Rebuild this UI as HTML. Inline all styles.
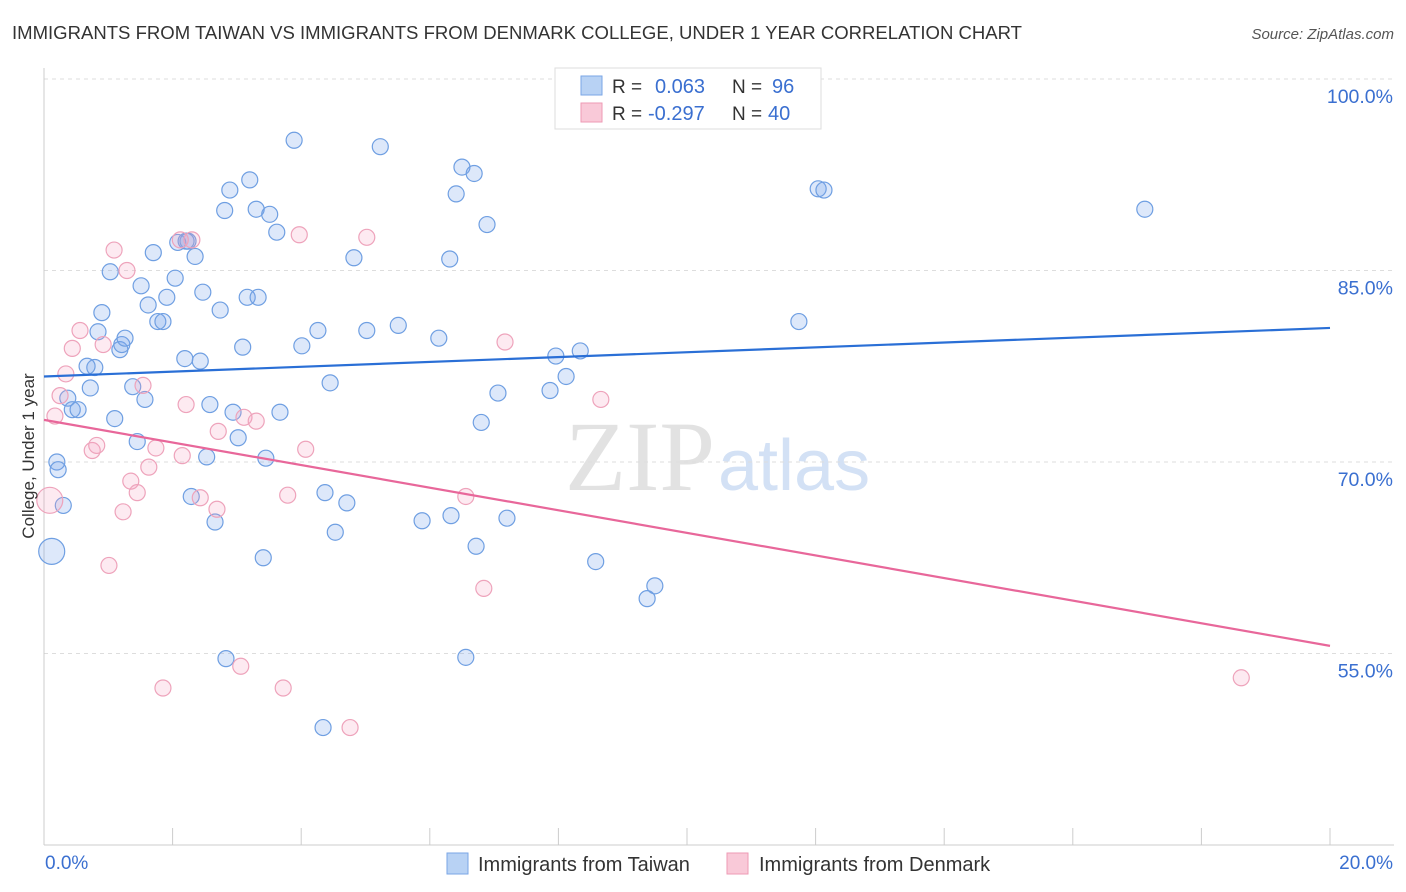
<!DOCTYPE html>
<html><head><meta charset="utf-8"><style>
body{margin:0;background:#fff;font-family:"Liberation Sans",sans-serif;}
svg{display:block}
</style></head><body>
<svg id="chart" width="1406" height="892">
<text x="12" y="39" font-size="18.5" fill="#333" textLength="1010" lengthAdjust="spacingAndGlyphs">IMMIGRANTS FROM TAIWAN VS IMMIGRANTS FROM DENMARK COLLEGE, UNDER 1 YEAR CORRELATION CHART</text>
<text x="1394" y="39" font-size="15" fill="#555" font-style="italic" text-anchor="end">Source: ZipAtlas.com</text>
<text x="715" y="490" font-size="100" font-family="Liberation Serif,serif" fill="#e2e2e2" text-anchor="end">ZIP</text>
<text x="718" y="490" font-size="72" fill="#d3e1f5">atlas</text>
<g id="grid"></g><g id="pts"></g><g id="trends"></g>
<text transform="translate(34,456) rotate(-90)" font-size="17" fill="#333" text-anchor="middle">College, Under 1 year</text>
<text x="45" y="869" font-size="19" fill="#3a6fd0">0.0%</text>
<text x="1393" y="869" font-size="19" fill="#3a6fd0" text-anchor="end">20.0%</text>
<g>
<rect x="555" y="68" width="266" height="61" fill="#fff" stroke="#ddd"/>
<rect x="581" y="76" width="21" height="19" fill="#b8d2f4" stroke="#7aa6e6"/>
<rect x="581" y="103" width="21" height="19" fill="#f9c9d8" stroke="#ee9ab4"/>
<text x="612" y="93" font-size="19" fill="#333">R = </text><text x="655" y="93" font-size="20" fill="#3a6fd0">0.063</text>
<text x="732" y="93" font-size="19" fill="#333">N = </text><text x="772" y="93" font-size="20" fill="#3a6fd0">96</text>
<text x="612" y="120" font-size="19" fill="#333">R = </text><text x="648" y="120" font-size="20" fill="#3a6fd0">-0.297</text>
<text x="732" y="120" font-size="19" fill="#333">N = </text><text x="768" y="120" font-size="20" fill="#3a6fd0">40</text>
</g>
<g>
<rect x="447" y="853" width="21" height="21" fill="#b8d2f4" stroke="#7aa6e6"/>
<text x="478" y="871" font-size="20" fill="#333">Immigrants from Taiwan</text>
<rect x="727" y="853" width="21" height="21" fill="#f9c9d8" stroke="#ee9ab4"/>
<text x="759" y="871" font-size="20" fill="#333">Immigrants from Denmark</text>
</g>
</svg>
<script>
const yTicks=[100,85,70,55];
const yTickLabels=["100.0%","85.0%","70.0%","55.0%"];
const xTicks=[0,2,4,6,8,10,12,14,16,18,20];
const blueX=[0.12,0.20,0.22,0.30,0.37,0.44,0.53,0.72,0.79,0.67,0.84,0.90,1.03,1.10,1.18,1.21,1.26,1.38,1.45,1.51,1.57,1.62,1.70,1.77,1.85,1.91,2.04,2.08,2.19,2.24,2.35,2.43,2.47,2.29,2.58,2.66,2.53,2.74,2.81,2.89,2.94,3.02,3.09,3.16,3.20,3.30,3.33,3.51,3.62,3.45,3.67,3.41,3.89,4.01,4.26,4.37,4.45,4.53,4.71,4.82,5.02,5.23,5.51,5.88,6.14,6.31,6.33,6.41,6.50,6.56,6.69,6.72,6.80,6.89,7.06,7.20,7.87,7.96,8.12,8.34,8.58,9.38,9.50,11.74,12.04,12.13,17.12,2.83,4.34,2.21];
const blueY=[63.0,70.0,69.4,66.6,75.0,74.1,74.1,75.8,77.4,77.5,80.2,81.7,84.9,73.4,78.8,79.2,79.7,75.9,71.6,83.8,74.9,82.3,86.4,81.0,81.0,82.9,84.4,87.2,78.1,87.3,86.1,77.9,83.3,67.3,74.5,65.3,70.4,81.9,89.7,91.3,73.9,71.9,79.0,82.9,92.1,89.8,82.9,89.4,88.0,70.3,73.9,62.5,95.2,79.1,80.3,67.6,76.2,64.5,66.8,86.0,80.3,94.7,80.7,65.4,79.7,85.9,65.8,91.0,93.1,54.7,92.6,63.4,73.1,88.6,75.4,65.6,75.6,78.3,76.7,78.7,62.2,59.3,60.3,81.0,91.4,91.3,89.8,54.6,49.2,87.3];
const pinkX=[0.09,0.17,0.25,0.34,0.44,0.56,0.75,0.82,0.92,1.09,1.23,1.29,1.35,1.45,1.54,1.63,1.74,1.85,2.15,2.21,2.30,2.43,2.71,2.69,3.06,3.11,3.30,3.72,3.79,3.97,4.07,4.76,5.02,6.56,6.84,7.17,8.66,1.01,18.62,2.12];
const pinkY=[67.0,73.6,75.2,76.9,78.9,80.3,70.9,71.3,79.2,86.6,66.1,85.0,68.5,67.6,76.0,69.6,71.1,52.3,70.5,74.5,87.4,67.2,72.4,66.3,54.0,73.5,73.2,52.3,67.4,87.8,71.0,49.2,87.6,67.3,60.1,79.4,74.9,61.9,53.1,87.4];
const blueTrend=[76.7,80.5];
const pinkTrend=[73.3,55.6];
const NS="http://www.w3.org/2000/svg";
const xs=v=>44+v*64.3, ys=v=>79+(100-v)*12.767;
function mk(t,a,p){const e=document.createElementNS(NS,t);for(const k in a)e.setAttribute(k,a[k]);p.appendChild(e);return e;}
const grid=document.getElementById('grid');
yTicks.forEach((t,i)=>{
 const l=mk('line',{x1:44,x2:1394,y1:ys(t),y2:ys(t),stroke:'#ddd','stroke-dasharray':'4,4'},grid);
 
 
 const tx=mk('text',{x:1393,y:ys(t)+24,'font-size':19.5,fill:'#3a6fd0','text-anchor':'end'},grid);
 tx.textContent=yTickLabels[i];
 
 
});
const ax=mk('line',{x1:44,x2:1394,y1:845,y2:845,stroke:'#ccc'},grid);


const ay=mk('line',{x1:44,x2:44,y1:68,y2:845,stroke:'#ccc'},grid);


xTicks.forEach(t=>{
 const l=mk('line',{x1:xs(t),x2:xs(t),y1:828,y2:845,stroke:'#ccc'},grid);
 
 
});
const pts=document.getElementById('pts');
function series(X,Y,fill,stroke,name){
 X.forEach((x,i)=>{
  const big=x<0.15;
  const c=mk('circle',{cx:xs(x),cy:ys(Y[i]),r:big?13:8,fill:fill,stroke:stroke,'stroke-width':1.2},pts);
  
  
 });
}
series(blueX,blueY,'rgba(120,165,235,0.25)','#6f9fe2','point-taiwan');
series(pinkX,pinkY,'rgba(245,160,190,0.22)','#eea3bb','point-denmark');
const tr=document.getElementById('trends');
const bl=mk('line',{x1:xs(0),y1:ys(blueTrend[0]),x2:xs(20),y2:ys(blueTrend[1]),stroke:'#2a6fd6','stroke-width':2.2},tr);


const pl=mk('line',{x1:xs(0),y1:ys(pinkTrend[0]),x2:xs(20),y2:ys(pinkTrend[1]),stroke:'#e8679a','stroke-width':2.2},tr);


</script>
</body></html>
